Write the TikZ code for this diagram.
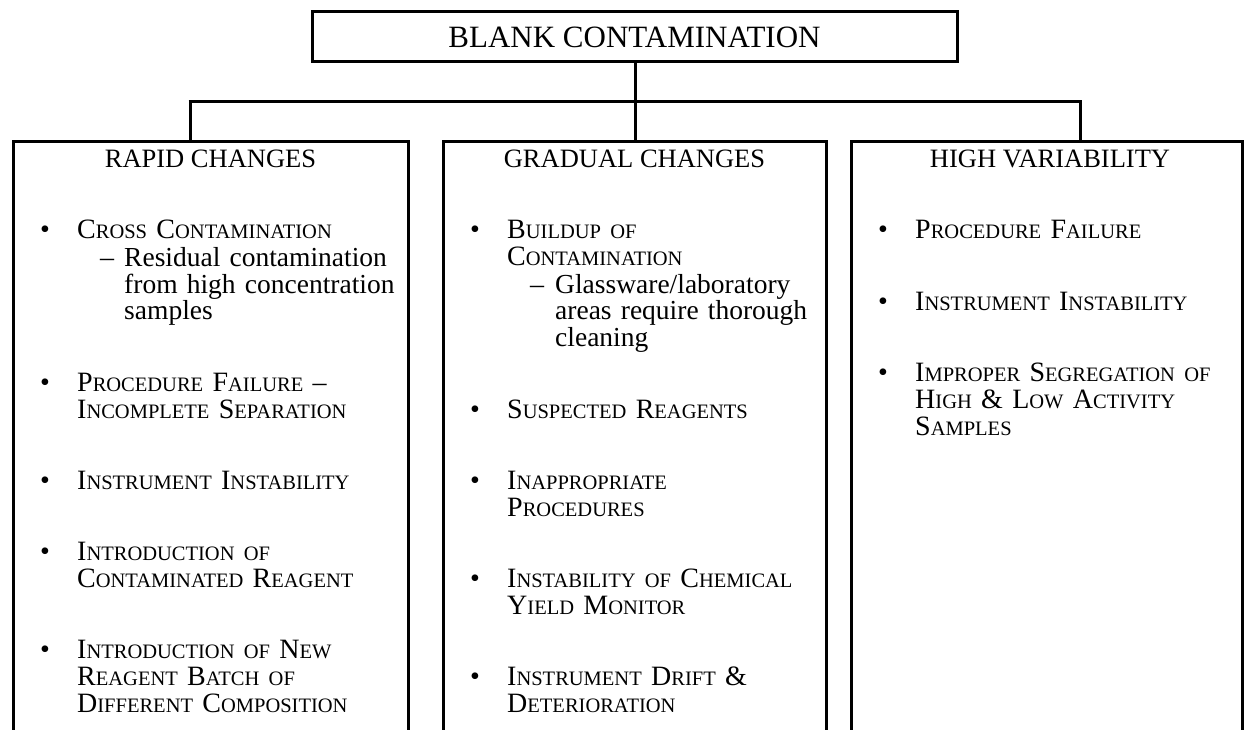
\documentclass[tikz,border=0pt]{standalone}
\usepackage{fontspec}
\setmainfont{Liberation Serif}
\newcommand\sk[1]{{\fontsize{20.5}{20.5}\selectfont #1}}
\begin{document}
\begin{tikzpicture}[x=1pt,y=1pt,
  box/.style={draw, line width=3pt, inner sep=0pt},
  head/.style={anchor=base, font=\fontsize{26.5}{27}\selectfont, inner sep=0pt},
  item/.style={anchor=base west, align=left, text width=330pt, font=\fontsize{28}{27}\selectfont, inner sep=0pt},
  sub/.style={anchor=base west, align=left, text width=300pt, font=\fontsize{27.5}{27}\selectfont, inner sep=0pt},
  bul/.style={anchor=base, font=\fontsize{28}{27}\selectfont, inner sep=0pt},
  link/.style={line width=3pt}]
\useasboundingbox (0,0) rectangle (1248,-730);
\clip (0,0) rectangle (1248,-730);

% title
\node[box, minimum width=645pt, minimum height=50pt, font=\fontsize{31}{31}\selectfont] (title) at (634.5,-37) {BLANK CONTAMINATION};

% column boxes
\node[box, anchor=north, minimum width=395pt, minimum height=640pt] (rapid) at (210.5,-140) {};
\node[box, anchor=north, minimum width=383pt, minimum height=640pt] (gradual) at (634.5,-140) {};
\node[box, anchor=north, minimum width=391pt, minimum height=640pt] (high) at (1046.5,-140) {};

% connectors
\coordinate (jl) at (190,-102);
\coordinate (jm) at (635,-102);
\coordinate (jr) at (1080,-102);
\draw[link] (title.south -| jm) -- (jm);
\draw[link] ([xshift=-1.5pt]jl) -- ([xshift=1.5pt]jr);
\draw[link] (jl) -- (jl |- rapid.north);
\draw[link] (jm) -- (jm |- gradual.north);
\draw[link] (jr) -- (jr |- high.north);

% headings
\node[head] (h1) at (210.5,-168) {RAPID CHANGES};
\node[head] (h2) at (634.5,-168) {GRADUAL CHANGES};
\node[head] (h3) at (1050,-168) {HIGH VARIABILITY};

% left column
\node[bul] (lb1) at (45,-239) {•};
\node[item] (l1) at (77,-239) {C\sk{ROSS} C\sk{ONTAMINATION}};
\node[bul] (ld1) at (107,-266) {–};
\node[sub] (ls1) at (124,-266) {Residual contamination\\from high concentration\\samples};
\node[bul] (lb2) at (45,-391) {•};
\node[item] (l2) at (77,-391) {P\sk{ROCEDURE} F\sk{AILURE} –\\I\sk{NCOMPLETE} S\sk{EPARATION}};
\node[bul] (lb3) at (45,-489) {•};
\node[item] (l3) at (77,-489) {I\sk{NSTRUMENT} I\sk{NSTABILITY}};
\node[bul] (lb4) at (45,-560) {•};
\node[item] (l4) at (77,-560) {I\sk{NTRODUCTION OF}\\C\sk{ONTAMINATED} R\sk{EAGENT}};
\node[bul] (lb5) at (45,-658) {•};
\node[item] (l5) at (77,-658) {I\sk{NTRODUCTION OF} N\sk{EW}\\R\sk{EAGENT} B\sk{ATCH OF}\\D\sk{IFFERENT} C\sk{OMPOSITION}};

% middle column
\node[bul] (mb1) at (475,-239) {•};
\node[item] (m1) at (507,-239) {B\sk{UILDUP OF}\\C\sk{ONTAMINATION}};
\node[bul] (md1) at (537,-293) {–};
\node[sub] (ms1) at (555,-293) {Glassware/laboratory\\areas require thorough\\cleaning};
\node[bul] (mb2) at (475,-418) {•};
\node[item] (m2) at (507,-418) {S\sk{USPECTED} R\sk{EAGENTS}};
\node[bul] (mb3) at (475,-489) {•};
\node[item] (m3) at (507,-489) {I\sk{NAPPROPRIATE}\\P\sk{ROCEDURES}};
\node[bul] (mb4) at (475,-587) {•};
\node[item] (m4) at (507,-587) {I\sk{NSTABILITY OF} C\sk{HEMICAL}\\Y\sk{IELD} M\sk{ONITOR}};
\node[bul] (mb5) at (475,-685) {•};
\node[item] (m5) at (507,-685) {I\sk{NSTRUMENT} D\sk{RIFT} \&\\D\sk{ETERIORATION}};

% right column
\node[bul] (rb1) at (883,-239) {•};
\node[item] (r1) at (915,-239) {P\sk{ROCEDURE} F\sk{AILURE}};
\node[bul] (rb2) at (883,-310) {•};
\node[item] (r2) at (915,-310) {I\sk{NSTRUMENT} I\sk{NSTABILITY}};
\node[bul] (rb3) at (883,-381) {•};
\node[item] (r3) at (915,-381) {I\sk{MPROPER} S\sk{EGREGATION OF}\\H\sk{IGH} \& L\sk{OW} A\sk{CTIVITY}\\S\sk{AMPLES}};
\end{tikzpicture}
\end{document}
